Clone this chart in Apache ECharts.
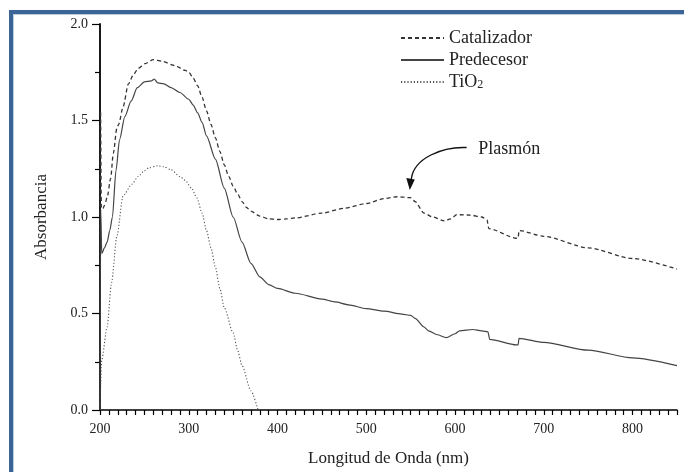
<!DOCTYPE html>
<html>
<head>
<meta charset="utf-8">
<script src="https://cdn.jsdelivr.net/npm/echarts@6/dist/echarts.min.js"></script>
<style>
  html, body { margin: 0; padding: 0; background: #fff; }
  #frame { position: absolute; left: 9px; top: 10px; width: 680px; height: 470px;
           border-top: 4px solid #3b6596; border-left: 4px solid #3b6596;
           box-shadow: inset 1px 1px 0 #b9cce2; }
  #chart { position: absolute; left: 0; top: 0; width: 684px; height: 472px; }
</style>
</head>
<body>
<div id="frame"></div>
<div id="chart"></div>
<script>
// ---- Data ----
const seriesNames = ['Catalizador', 'Predecesor', 'TiO2'];

const catWl  = [200, 200.6, 201.5, 203, 205, 208, 212, 215, 219, 221, 226, 232, 238, 243, 251, 260, 270, 284, 296, 300, 305, 310, 315, 320, 325, 330, 335, 340, 345, 350, 355, 360, 365, 370, 380, 390, 400, 410, 420, 450, 475, 500, 520, 535, 550, 555, 565, 575, 588, 595, 602, 617, 630, 636, 638, 669, 671, 672, 700, 750, 800, 850];
const catAbs = [0, 1.55, 1.05, 1.04, 1.06, 1.10, 1.20, 1.33, 1.46, 1.48, 1.57, 1.69, 1.74, 1.77, 1.795, 1.815, 1.807, 1.785, 1.76, 1.75, 1.72, 1.68, 1.62, 1.55, 1.48, 1.41, 1.34, 1.27, 1.21, 1.16, 1.12, 1.08, 1.05, 1.03, 1.005, 0.99, 0.987, 0.99, 0.995, 1.02, 1.045, 1.07, 1.095, 1.105, 1.10, 1.08, 1.02, 1.0, 0.98, 0.99, 1.012, 1.01, 1.0, 0.985, 0.94, 0.89, 0.89, 0.93, 0.90, 0.84, 0.785, 0.73];

const preWl  = [200, 200.8, 202, 205, 208, 211, 214, 218, 222, 228, 235, 242, 250, 258, 261, 265, 272, 280, 290, 300, 305, 310, 315, 320, 330, 340, 350, 360, 370, 380, 390, 400, 420, 450, 465, 480, 500, 520, 540, 550, 555, 565, 570, 580, 590, 600, 605, 620, 630, 637, 639, 669, 671, 672, 700, 750, 800, 850];
const preAbs = [0, 1.04, 0.81, 0.84, 0.87, 0.93, 1.0, 1.24, 1.40, 1.52, 1.60, 1.67, 1.70, 1.705, 1.715, 1.695, 1.69, 1.67, 1.645, 1.61, 1.58, 1.54, 1.49, 1.42, 1.30, 1.15, 1.00, 0.87, 0.76, 0.69, 0.65, 0.63, 0.605, 0.575, 0.56, 0.545, 0.525, 0.512, 0.497, 0.49, 0.475, 0.43, 0.41, 0.39, 0.375, 0.395, 0.41, 0.417, 0.41, 0.405, 0.366, 0.337, 0.337, 0.371, 0.35, 0.31, 0.27, 0.23];

const tioWl  = [200, 202, 208, 213, 219, 226, 236, 243, 250, 255, 265, 272, 280, 290, 296, 303, 309, 315, 320, 325, 330, 335, 340, 350, 355, 360, 370, 378];
const tioAbs = [0, 0.26, 0.43, 0.66, 0.90, 1.11, 1.17, 1.21, 1.24, 1.255, 1.265, 1.26, 1.245, 1.21, 1.19, 1.15, 1.10, 1.02, 0.93, 0.84, 0.74, 0.63, 0.53, 0.40, 0.31, 0.23, 0.10, 0.0];

const xTickLabels = [200, 300, 400, 500, 600, 700, 800];

// annotation anchors in data coordinates
const plasmonLabel = 'Plasmón';
const plasmonTextAt = [626, 1.345];
const plasmonArrowStart = [613, 1.36];
const plasmonArrowTip = [549, 1.14];

// ---- Chart ----
const zip = (xs, ys) => xs.map((x, i) => [x, ys[i]]);
const serif = '"Liberation Serif", "DejaVu Serif", serif';
const chart = echarts.init(document.getElementById('chart'), null, { renderer: 'canvas' });

const styles = [
  { type: [4, 3], width: 1.3, color: '#333' },
  { type: 'solid', width: 1.2, color: '#444' },
  { type: [1.2, 2], width: 1.1, color: '#555' }
];
const dataSets = [zip(catWl, catAbs), zip(preWl, preAbs), zip(tioWl, tioAbs)];

chart.setOption({
  animation: false,
  backgroundColor: 'transparent',
  grid: { left: 100, right: 7, top: 24, bottom: 59, containLabel: false },
  legend: {
    data: seriesNames,
    orient: 'vertical',
    left: 400,
    top: 29,
    itemWidth: 43,
    itemHeight: 14,
    itemGap: 4,
    padding: 0,
    itemStyle: { color: 'rgba(0,0,0,0)', borderWidth: 0, opacity: 0 },
    formatter: n => n === 'TiO2' ? 'TiO{sub|2}' : n,
    textStyle: {
      fontFamily: serif, fontSize: 18, color: '#222', lineHeight: 18,
      rich: { sub: { fontFamily: serif, fontSize: 12, color: '#222', lineHeight: 1, verticalAlign: 'bottom' } }
    }
  },
  xAxis: {
    type: 'value', min: 200, max: 850, interval: 10,
    name: 'Longitud de Onda (nm)', nameLocation: 'middle', nameGap: 40,
    nameTextStyle: { fontFamily: serif, fontSize: 17, color: '#222' },
    axisLine: { show: true, onZero: false, lineStyle: { color: '#000', width: 1.5 } },
    axisTick: { show: true, length: 5, lineStyle: { color: '#000', width: 1.2 } },
    axisLabel: {
      margin: 12, fontFamily: serif, fontSize: 14, color: '#222',
      formatter: v => xTickLabels.indexOf(v) >= 0 ? String(v) : ''
    },
    splitLine: { show: false }
  },
  yAxis: {
    type: 'value', min: 0, max: 2, interval: 0.5,
    name: 'Absorbancia', nameLocation: 'middle', nameGap: 50,
    nameTextStyle: { fontFamily: serif, fontSize: 17, color: '#222' },
    axisLine: { show: true, onZero: false, lineStyle: { color: '#000', width: 1.8 } },
    axisTick: { show: true, length: 8, lineStyle: { color: '#000', width: 1.2 } },
    minorTick: { show: true, splitNumber: 2, length: 5, lineStyle: { color: '#000', width: 1.2 } },
    axisLabel: { margin: 12, fontFamily: serif, fontSize: 14, color: '#222', formatter: v => v.toFixed(1) },
    splitLine: { show: false },
    minorSplitLine: { show: false }
  },
  series: seriesNames.map((n, i) => ({
    name: n, type: 'line', data: dataSets[i],
    showSymbol: false, symbol: 'none',
    smooth: 0.25, smoothMonotone: 'x',
    lineStyle: styles[i], itemStyle: { color: styles[i].color },
    z: 3 - i
  }))
});

// annotation placed from data coordinates
const pt = d => chart.convertToPixel({ gridIndex: 0 }, d);
const t = pt(plasmonTextAt), s = pt(plasmonArrowStart), e = pt(plasmonArrowTip);
const headLen = 12;
chart.setOption({
  graphic: [
    { type: 'text', left: t[0], top: t[1] - 10,
      style: { text: plasmonLabel, font: '18px ' + serif, fill: '#222' } },
    { type: 'bezierCurve',
      shape: { x1: s[0], y1: s[1], cpx1: s[0] - 24, cpy1: s[1] - 1, cpx2: e[0] + 4, cpy2: e[1] - 32, x2: e[0] + 1.5, y2: e[1] - headLen + 1 },
      style: { stroke: '#111', lineWidth: 1.4, fill: null } },
    { type: 'polygon',
      shape: { points: [[e[0], e[1]], [e[0] - 3.5, e[1] - headLen], [e[0] + 5, e[1] - headLen + 1.5]] },
      style: { fill: '#111' } }
  ]
});
</script>
</body>
</html>
